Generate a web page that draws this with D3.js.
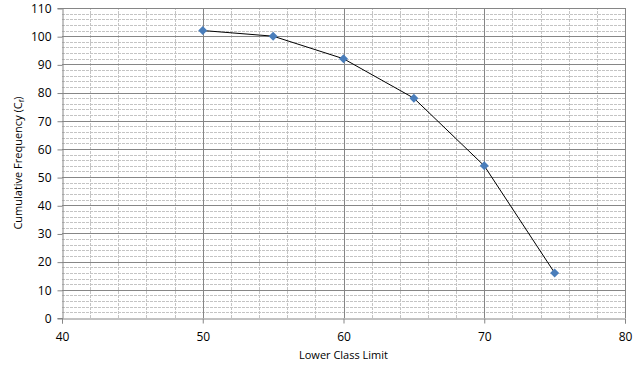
<!DOCTYPE html>
<html>
<head>
<meta charset="utf-8">
<script src="https://cdn.jsdelivr.net/npm/d3@7"></script>
<style>
  body { margin: 0; background: #fff; }
  text { font-family: "Open Sans", "Liberation Sans", sans-serif; fill: #000; }
</style>
</head>
<body>
<svg id="chart" width="643" height="368"></svg>
<script>
// chart values
var lowerLimits = [50, 55, 60, 65, 70, 75];
var cumFreq = [102, 100, 92, 78, 54, 16];
var xTicks = [40, 50, 60, 70, 80];
var yTicks = [0, 10, 20, 30, 40, 50, 60, 70, 80, 90, 100, 110];

var svg = d3.select("#chart");
var margin = {left: 62, right: 18, top: 8, bottom: 50};
var W = 643, H = 368;

var x = d3.scaleLinear().domain([40, 80]).range([margin.left, W - margin.right]);
var y = d3.scaleLinear().domain([0, 110]).range([H - margin.bottom, margin.top]);

var grid = svg.append("g");

// minor gridlines, every 2 units
grid.selectAll(".minx")
    .data(d3.range(42, 80, 2).filter(v => v % 10 !== 0))
  .enter().append("line")
    .attr("x1", d => Math.round(x(d)) + 0.5).attr("x2", d => Math.round(x(d)) + 0.5)
    .attr("y1", y(0)).attr("y2", y(110))
    .attr("stroke", "#c4c4c4").attr("stroke-dasharray", "3,1");
grid.selectAll(".miny")
    .data(d3.range(2, 110, 2).filter(v => v % 10 !== 0))
  .enter().append("line")
    .attr("y1", d => Math.round(y(d)) + 0.5).attr("y2", d => Math.round(y(d)) + 0.5)
    .attr("x1", x(40)).attr("x2", x(80))
    .attr("stroke", "#c4c4c4").attr("stroke-dasharray", "3,1");

// major gridlines
grid.selectAll(".majx")
    .data(xTicks.slice(1))
  .enter().append("line")
    .attr("x1", d => Math.round(x(d)) + 0.5).attr("x2", d => Math.round(x(d)) + 0.5)
    .attr("y1", y(0)).attr("y2", y(110))
    .attr("stroke", "#868686");
grid.selectAll(".majy")
    .data(yTicks.slice(1))
  .enter().append("line")
    .attr("y1", d => Math.round(y(d)) + 0.5).attr("y2", d => Math.round(y(d)) + 0.5)
    .attr("x1", x(40)).attr("x2", x(80))
    .attr("stroke", "#868686");

// axes
var xAxis = svg.append("g")
    .attr("transform", "translate(0," + (Math.round(y(0)) + 0.5) + ")")
    .call(d3.axisBottom(x).tickValues(xTicks).tickSize(5).tickPadding(9));
var yAxis = svg.append("g")
    .attr("transform", "translate(" + (Math.round(x(40)) + 0.5) + ",0)")
    .call(d3.axisLeft(y).tickValues(yTicks).tickSize(5).tickPadding(6));
[xAxis, yAxis].forEach(function(a) {
  a.select(".domain").attr("stroke", "#868686");
  a.selectAll(".tick line").attr("stroke", "#868686");
  a.selectAll(".tick text").style("font-size", "12px").style("font-family", "'Open Sans', sans-serif");
});
yAxis.selectAll(".tick line").attr("transform", "translate(0,0.5)");
yAxis.selectAll(".tick text").attr("dy", "0.36em");

// line + markers
var pts = lowerLimits.map((d, i) => [d, cumFreq[i]]);
svg.append("path")
    .datum(pts)
    .attr("fill", "none")
    .attr("stroke", "#000")
    .attr("stroke-width", 1)
    .attr("d", d3.line().x(d => x(d[0])).y(d => y(d[1])));

svg.selectAll(".pt")
    .data(pts)
  .enter().append("path")
    .attr("transform", d => "translate(" + x(d[0]) + "," + y(d[1]) + ")")
    .attr("d", d3.symbol(d3.symbolDiamond2, 52))
    .attr("fill", "#4a7ebb");

// axis titles
svg.append("text")
    .attr("x", (x(40) + x(80)) / 2).attr("y", 359)
    .attr("text-anchor", "middle")
    .style("font-size", "11px")
    .text("Lower Class Limit");

var yt = svg.append("text")
    .attr("transform", "translate(22," + ((y(0) + y(110)) / 2) + ") rotate(-90)")
    .attr("text-anchor", "middle")
    .style("font-size", "11px");
yt.append("tspan").text("Cumulative Frequency (C");
yt.append("tspan").attr("dy", "2").style("font-size", "8px").text("f");
yt.append("tspan").attr("dy", "-2").text(")");
</script>
</body>
</html>
